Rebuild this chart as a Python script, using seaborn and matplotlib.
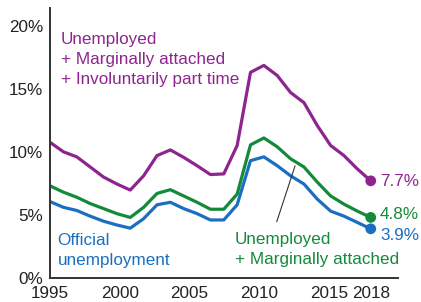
import numpy as np
import pandas as pd
import matplotlib
matplotlib.use("Agg")
import matplotlib.pyplot as plt
import seaborn as sns

# annual averages, 1994-2018
years = list(range(1994, 2019))
u6 = [10.75, 10.0, 9.6, 8.8, 8.0, 7.45, 6.97, 8.1, 9.7, 10.15, 9.56, 8.9, 8.2, 8.25,
      10.5, 16.3, 16.85, 16.05, 14.7, 13.9, 12.08, 10.5, 9.7, 8.64, 7.7]
u5 = [7.3, 6.8, 6.4, 5.9, 5.5, 5.1, 4.8, 5.6, 6.7, 7.0, 6.5, 6.0, 5.45, 5.45,
      6.65, 10.55, 11.1, 10.4, 9.45, 8.8, 7.6, 6.5, 5.85, 5.3, 4.8]
u3 = [6.05, 5.6, 5.35, 4.9, 4.5, 4.2, 3.95, 4.7, 5.8, 6.0, 5.5, 5.1, 4.6, 4.6,
      5.8, 9.3, 9.6, 8.9, 8.1, 7.45, 6.25, 5.3, 4.9, 4.4, 3.9]

tick_years = [1995, 2000, 2005, 2010, 2015, 2018]
y_ticks = [0, 5, 10, 15, 20]

purple = "#8e2490"
green = "#138a3a"
blue = "#1a6fc0"

df = pd.DataFrame({
    "year": years * 3,
    "rate": u6 + u5 + u3,
    "series": ["u6"] * len(years) + ["u5"] * len(years) + ["u3"] * len(years),
})
pal = {"u6": purple, "u5": green, "u3": blue}

sns.set_style("white")
plt.rcParams["font.family"] = ["Liberation Sans", "DejaVu Sans"]
plt.rcParams["font.size"] = 12.3

fig = plt.figure(figsize=(4.21, 3.02), dpi=100)
ax = fig.add_axes([0.119, 0.0795, 0.827, 0.894])

sns.lineplot(data=df, x="year", y="rate", hue="series", palette=pal,
             linewidth=2.3, legend=False, ax=ax)
last = df[df["year"] == years[-1]]
sns.scatterplot(data=last, x="year", y="rate", hue="series", palette=pal,
                s=60, edgecolor="none", legend=False, ax=ax, zorder=5)

ax.set_xlim(1994, 2020.06)
ax.set_ylim(0, 21.4)

# the source chart stretches its year labels so 1995 sits on the first point
tick_pos = [years[0] + (t - 1995) * (years[-1] - years[0]) / (2018 - 1995) for t in tick_years]
ax.set_xticks(tick_pos)
ax.set_xticklabels([str(t) for t in tick_years])
ax.set_yticks(y_ticks)
ax.set_yticklabels([f"{v}%" for v in y_ticks])
ax.tick_params(length=0, labelsize=12.3, colors="#222222")
ax.tick_params(axis="x", pad=6)
ax.tick_params(axis="y", pad=5)
ax.set_xlabel("")
ax.set_ylabel("")

for side in ["top", "right"]:
    ax.spines[side].set_visible(False)
for side in ["left", "bottom"]:
    ax.spines[side].set_color("#333333")
    ax.spines[side].set_linewidth(1.4)

ax.text(1994.79, 17.3, "Unemployed\n+ Marginally attached\n+ Involuntarily part time",
        color=purple, ha="left", va="center", fontsize=12.3, linespacing=1.4)
ax.text(1994.56, 2.2, "Official\nunemployment", color=blue, ha="left", va="center",
        fontsize=12.3, linespacing=1.4)
ax.text(2007.84, 2.25, "Unemployed\n+ Marginally attached", color=green, ha="left", va="center",
        fontsize=12.3, linespacing=1.4)
ax.annotate("", xy=(2012.4, 9.1), xytext=(2010.9, 4.25),
            arrowprops=dict(arrowstyle="-", color="#333333", lw=0.8))

ax.text(2018.7, 7.66, f"{u6[-1]}%", color=purple, ha="left", va="center", fontsize=12.3)
ax.text(2018.7, 5.05, f"{u5[-1]}%", color=green, ha="left", va="center", fontsize=12.3)
ax.text(2018.7, 3.4, f"{u3[-1]}%", color=blue, ha="left", va="center", fontsize=12.3)

fig.savefig("out.png", dpi=100)
